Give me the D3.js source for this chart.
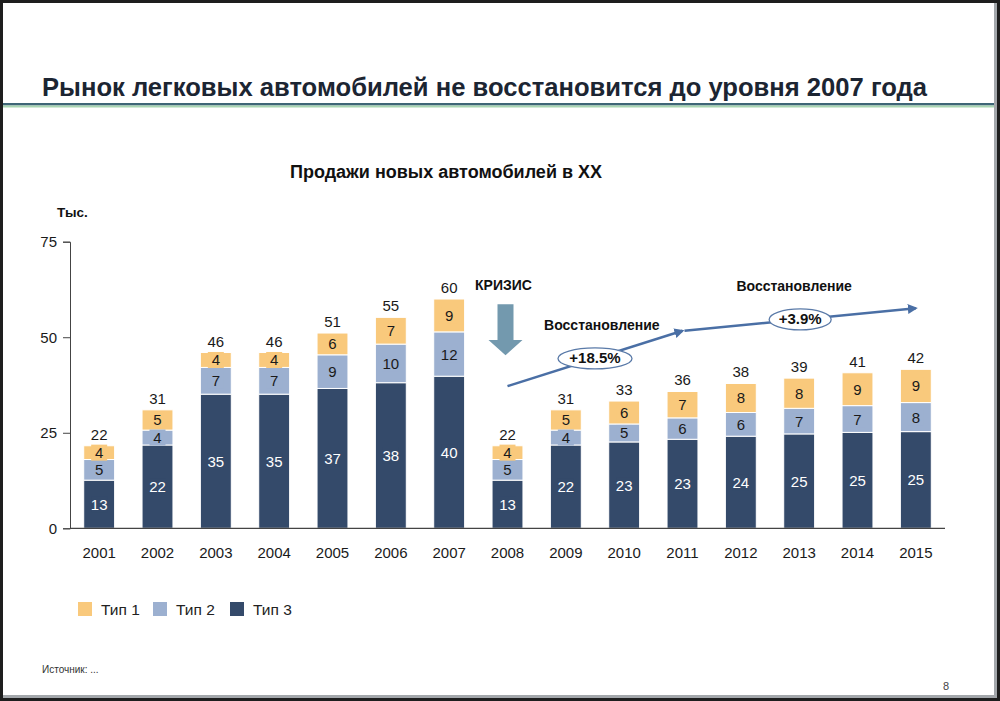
<!DOCTYPE html>
<html>
<head>
<meta charset="utf-8">
<script src="https://cdn.jsdelivr.net/npm/d3@7"></script>
<style>
	body { margin: 0; background: #fff; }
	svg { display: block; font-family: 'Liberation Sans', Arial, sans-serif; }
</style>
</head>
<body>
<svg id="chart" width="1000" height="701"></svg>
<script>
// data (тыс. шт.)
const years = ['2001', '2002', '2003', '2004', '2005', '2006', '2007', '2008',
	'2009', '2010', '2011', '2012', '2013', '2014', '2015']
const type3 = [12.6, 21.8, 35.1, 35.1, 36.6, 38.1, 39.8, 12.6, 21.8, 22.6, 23.3, 24.1, 24.7, 25.1, 25.3]
const type2 = [5.4, 3.9, 7.0, 7.0, 8.8, 10.1, 11.6, 5.4, 3.9, 4.7, 5.6, 6.2, 6.7, 7.0, 7.6]
const type1 = [3.6, 5.3, 3.9, 3.9, 5.7, 7.0, 8.6, 3.6, 5.3, 6.0, 6.9, 7.6, 7.9, 8.6, 8.7]
const yTicks = [0, 25, 50, 75]
const seriesNames = ['Тип 1', 'Тип 2', 'Тип 3']
// trend arrows: [year, value]
const trend = [['2008', 37.2], ['2011', 51.7], ['2015', 57.6]]
const growth = ['+18.5%', '+3.9%']

const colors = { 'Тип 1': '#F9C97C', 'Тип 2': '#9CB0D0', 'Тип 3': '#344A6A' }
const labelColors = { 'Тип 1': '#1a1a1a', 'Тип 2': '#1a1a1a', 'Тип 3': '#ffffff' }

const svg = d3.select('#chart')

/* slide frame */
svg.append('rect').attr('x', 0).attr('y', 0).attr('width', 1000).attr('height', 701).attr('fill', '#1e1e1e')
svg.append('rect').attr('x', 3).attr('y', 3).attr('width', 994).attr('height', 695).attr('fill', '#a3a7ab')
svg.append('rect').attr('x', 3).attr('y', 3).attr('width', 991).attr('height', 692).attr('fill', '#ffffff')

svg.append('text')
	.attr('x', 42).attr('y', 96)
	.attr('font-size', 26).attr('font-weight', 'bold').attr('fill', '#1c2532')
	.attr('textLength', 885).attr('lengthAdjust', 'spacingAndGlyphs')
	.text('Рынок легковых автомобилей не восстановится до уровня 2007 года')

svg.append('rect').attr('x', 3).attr('y', 103).attr('width', 991).attr('height', 2.5).attr('fill', '#3f6677')
svg.append('rect').attr('x', 3).attr('y', 105.5).attr('width', 991).attr('height', 2).attr('fill', '#a9d6b2')

svg.append('text')
	.attr('x', 446).attr('y', 178).attr('text-anchor', 'middle')
	.attr('font-size', 18).attr('font-weight', 'bold').attr('fill', '#111')
	.text('Продажи новых автомобилей в XX')

svg.append('text')
	.attr('x', 57).attr('y', 217)
	.attr('font-size', 13.5).attr('font-weight', 'bold').attr('fill', '#111')
	.text('Тыс.')

/* scales */
const x = d3.scaleBand().domain(years).range([70, 945]).paddingInner(0.47).paddingOuter(0.235)
const y = d3.scaleLinear().domain([0, 75]).range([528.3, 241.7])
const bw = x.bandwidth()
const xc = yr => x(yr) + bw / 2

const rows = years.map((yr, i) => ({ year: yr, 'Тип 1': type1[i], 'Тип 2': type2[i], 'Тип 3': type3[i] }))
const stack = d3.stack().keys(['Тип 3', 'Тип 2', 'Тип 1'])(rows)

/* bars */
const layers = svg.append('g')
	.selectAll('g')
	.data(stack)
	.join('g')
	.attr('fill', d => colors[d.key])

layers.selectAll('rect')
	.data(d => d)
	.join('rect')
	.attr('x', d => x(d.data.year))
	.attr('y', d => y(d[1]))
	.attr('width', bw)
	.attr('height', d => y(d[0]) - y(d[1]))
	.attr('stroke', '#fff')
	.attr('stroke-width', 1)

/* segment labels, with a small backing patch in the segment colour */
stack.forEach(layer => {
	const g = svg.append('g')
	layer.forEach(d => {
		const cy = (y(d[0]) + y(d[1])) / 2
		g.append('rect')
			.attr('x', xc(d.data.year) - 8).attr('y', cy - 8)
			.attr('width', 16).attr('height', 16)
			.attr('fill', colors[layer.key])
		g.append('text')
			.attr('x', xc(d.data.year)).attr('y', cy + 5.5)
			.attr('text-anchor', 'middle').attr('font-size', 15)
			.attr('fill', labelColors[layer.key])
			.text(Math.round(d[1] - d[0]))
	})
})

/* totals */
svg.append('g')
	.selectAll('text')
	.data(rows)
	.join('text')
	.attr('x', d => xc(d.year))
	.attr('y', d => y(d['Тип 1'] + d['Тип 2'] + d['Тип 3']) - 6)
	.attr('text-anchor', 'middle').attr('font-size', 15).attr('fill', '#1a1a1a')
	.text(d => Math.round(d['Тип 1'] + d['Тип 2'] + d['Тип 3']))

/* axes */
const yAxis = svg.append('g')
	.attr('transform', 'translate(70,0)')
	.call(d3.axisLeft(y).tickValues(yTicks).tickSize(7).tickPadding(6))
yAxis.select('.domain').attr('stroke', '#444')
yAxis.selectAll('.tick line').attr('stroke', '#444')
yAxis.selectAll('.tick text').attr('font-size', 15).attr('fill', '#1a1a1a').attr('font-family', null)

svg.append('line')
	.attr('x1', 70).attr('x2', 945)
	.attr('y1', y(0)).attr('y2', y(0))
	.attr('stroke', '#444').attr('stroke-width', 1.3)

svg.append('g')
	.selectAll('text')
	.data(years)
	.join('text')
	.attr('x', d => xc(d))
	.attr('y', 558)
	.attr('text-anchor', 'middle').attr('font-size', 15).attr('fill', '#1a1a1a')
	.text(d => d)

/* annotations */
const ann = svg.append('g')
ann.append('text')
	.attr('x', xc('2008') - 4).attr('y', y(62.3))
	.attr('text-anchor', 'middle').attr('font-size', 14).attr('font-weight', 'bold').attr('fill', '#111')
	.text('КРИЗИС')

const ax = xc('2008') - 2
const aTop = y(58.6)
const aNeck = y(49.3)
const aTip = y(45.3)
ann.append('path')
	.attr('d', `M${ax - 8},${aTop} H${ax + 8} V${aNeck} H${ax + 17} L${ax},${aTip} L${ax - 17},${aNeck} H${ax - 8} Z`)
	.attr('fill', '#7399AE')

ann.append('text')
	.attr('x', xc('2009') + 36).attr('y', y(51.9))
	.attr('text-anchor', 'middle').attr('font-size', 14).attr('font-weight', 'bold').attr('fill', '#111')
	.text('Восстановление')

ann.append('text')
	.attr('x', xc('2013') - 5).attr('y', y(62.1))
	.attr('text-anchor', 'middle').attr('font-size', 14).attr('font-weight', 'bold').attr('fill', '#111')
	.text('Восстановление')

svg.append('defs').append('marker')
	.attr('id', 'head')
	.attr('viewBox', '0 0 10 10')
	.attr('refX', 8).attr('refY', 5)
	.attr('markerWidth', 4).attr('markerHeight', 4)
	.attr('orient', 'auto')
	.append('path').attr('d', 'M0,0 L10,5 L0,10 Z').attr('fill', '#4a6fa5')

const ellipseRx = [37, 31]
for (let i = 0; i < trend.length - 1; i++) {
	const x1 = xc(trend[i][0]) + (i ? 2 : 0)
	const y1 = y(trend[i][1])
	const x2 = xc(trend[i + 1][0])
	const y2 = y(trend[i + 1][1])
	ann.append('line')
		.attr('x1', x1).attr('y1', y1).attr('x2', x2).attr('y2', y2)
		.attr('stroke', '#4a6fa5').attr('stroke-width', 2.5)
		.attr('marker-end', 'url(#head)')
	const mx = (x1 + x2) / 2
	const my = (y1 + y2) / 2
	ann.append('ellipse')
		.attr('cx', mx).attr('cy', my)
		.attr('rx', ellipseRx[i]).attr('ry', 10.5)
		.attr('fill', '#fff').attr('stroke', '#5a7aa8').attr('stroke-width', 1.3)
	ann.append('text')
		.attr('x', mx).attr('y', my + 5)
		.attr('text-anchor', 'middle').attr('font-size', 15).attr('font-weight', 'bold').attr('fill', '#111')
		.text(growth[i])
}

/* legend */
const legendX = [78, 153, 230]
const legend = svg.append('g')
	.selectAll('g')
	.data(seriesNames)
	.join('g')
	.attr('transform', (d, i) => `translate(${legendX[i]},602)`)
legend.append('rect').attr('width', 14).attr('height', 14).attr('fill', d => colors[d])
legend.append('text')
	.attr('x', 23).attr('y', 13)
	.attr('font-size', 15.5).attr('fill', '#222')
	.text(d => d)

svg.append('text')
	.attr('x', 42).attr('y', 673)
	.attr('font-size', 10).attr('fill', '#333')
	.text('Источник: ...')

svg.append('text')
	.attr('x', 946).attr('y', 690)
	.attr('text-anchor', 'middle').attr('font-size', 11).attr('fill', '#444')
	.text('8')
</script>
</body>
</html>
